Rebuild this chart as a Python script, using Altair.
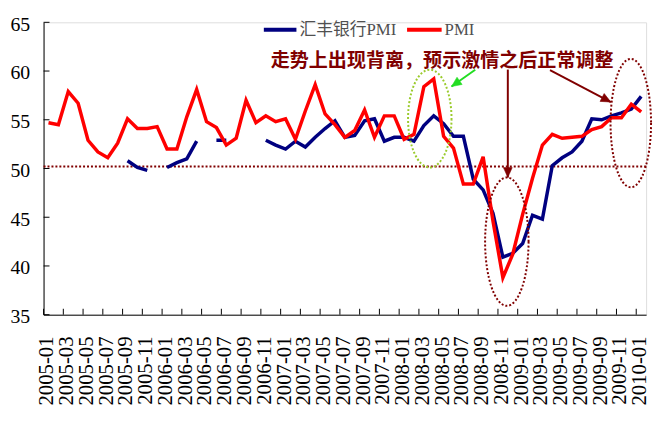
import math
import altair as alt
import pandas as pd

# ---------------- data ----------------
months = [f"{y}-{m:02d}" for y in range(2005, 2011) for m in range(1, 13)][:61]

pmi = [54.7, 54.5, 57.9, 56.7, 52.9, 51.7, 51.1, 52.6, 55.1, 54.1, 54.1, 54.3,
       52.0, 52.0, 55.3, 58.1, 54.8, 54.2, 52.4, 53.1, 57.0, 54.7, 55.4, 54.8,
       55.1, 53.0, 55.9, 58.6, 55.6, 54.5, 53.2, 53.9, 56.0, 53.2, 55.4, 55.4,
       53.0, 53.5, 58.4, 59.2, 53.3, 52.1, 48.4, 48.4, 51.2, 44.6, 38.8, 41.2,
       45.3, 49.0, 52.4, 53.5, 53.1, 53.2, 53.3, 54.0, 54.3, 55.2, 55.2, 56.6,
       55.8]

hsbc = [None, None, None, None, None, None, None, None,
        50.8, 50.1, 49.8, None, 50.1, 50.6, 51.0, 52.8, None, 52.9, 52.9, None, None, None,
        52.9, 52.4, 52.0, 52.8, 52.2, 53.2, 54.1, 54.9, 53.2, 53.4, 54.9, 55.1,
        52.8, 53.2, 53.2, 52.8, 54.4, 55.4, 54.6, 53.3, 53.3, 48.9, 47.8, 45.4, 40.9, 41.3,
        42.3, 45.2, 44.8, 50.3, 51.1, 51.7, 52.8, 55.1, 55.0, 55.4, 55.7, 56.1,
        57.4]

series_names = ["汇丰银行PMI", "PMI"]
series_colors = ["#000080", "#FF0000"]

y_ticks = [35, 40, 45, 50, 55, 60, 65]
x_tick_months = months[::2]
ref_level = 50.2

note_text = "走势上出现背离，预示激情之后正常调整"
note_pos = [40.35]
note_value = [61.05]

# ellipses: centre (month position, value), size in px (w, h), colour
ell_pos = [39.1, 46.9, 59.45]
ell_value = [55.12, 42.5, 54.66]
ell_w = [44, 44, 41]
ell_h = [99, 130, 130]
ell_color = ["#9BCB2D", "#800000", "#800000"]

# arrows: start -> tip
arr_pos0 = [43.7, 47.0, 51.27]
arr_val0 = [60.13, 60.15, 60.1]
arr_pos1 = [41.3, 47.0, 57.43]
arr_val1 = [58.41, 49.08, 56.82]
arr_color = ["#22DD22", "#800000", "#800000"]

# ---------------- layout ----------------
W, H = 610, 296
NPOS = len(months)
Y0, Y1 = 35, 65
SERIF = "Liberation Serif"
MIXED = "Liberation Serif, Noto Sans CJK SC"

rows = []
for i, m in enumerate(months):
    rows.append({"month": m, "pos": i + 0.5, "series": series_names[0], "value": hsbc[i]})
    rows.append({"month": m, "pos": i + 0.5, "series": series_names[1], "value": pmi[i]})
df = pd.DataFrame(rows)

x_tick_pos = [months.index(m) for m in x_tick_months]

x_scale = alt.Scale(domain=[0, NPOS], nice=False, zero=False)
y_scale = alt.Scale(domain=[Y0, Y1], nice=False, zero=False)

x_axis = alt.Axis(values=x_tick_pos, labels=False, ticks=False, domainColor="black",
                  domainWidth=1, grid=False)
y_axis = alt.Axis(values=y_ticks, labelPadding=14, labelOffset=2, labelFontSize=20,
                  labelFont=SERIF, labelColor="black", ticks=False, domainColor="black",
                  domainWidth=1, grid=False)

color = alt.Color("series:N",
                  scale=alt.Scale(domain=series_names, range=series_colors),
                  legend=None)

X = alt.X("pos:Q", scale=x_scale, axis=x_axis, title=None)
Y = alt.Y("value:Q", scale=y_scale, axis=y_axis, title=None)

base = alt.Chart(df)
blue = base.transform_filter(alt.datum.series == series_names[0]).mark_line(
    strokeWidth=3.5).encode(x=X, y=Y, color=color)
red = base.transform_filter(alt.datum.series == series_names[1]).mark_line(
    strokeWidth=3.5).encode(x=X, y=Y, color=color)

ref = alt.Chart(pd.DataFrame({"value": [ref_level]})).mark_rule(
    color="#800000", strokeDash=[2, 2], strokeWidth=2).encode(y="value:Q")

# inward tick marks
ytick_rules = alt.Chart(pd.DataFrame({"value": y_ticks})).mark_rule(
    color="black", strokeWidth=1).encode(y="value:Q", x=alt.value(0), x2=alt.value(6))
xtick_rules = alt.Chart(pd.DataFrame({"pos": x_tick_pos})).mark_rule(
    color="black", strokeWidth=1).encode(x="pos:Q", y=alt.value(H - 6), y2=alt.value(H))

# rotated month labels
xlab_df = pd.DataFrame({"pos": [p + 0.4 for p in x_tick_pos], "label": x_tick_months})
xlabels = alt.Chart(xlab_df).mark_text(
    angle=270, align="right", baseline="middle", font=SERIF, fontSize=21,
    color="black").encode(x="pos:Q", y=alt.value(H + 22), text="label:N")

layers = [ref, ytick_rules, xtick_rules, xlabels, blue, red]

# ellipses
for p, v, w, h, c in zip(ell_pos, ell_value, ell_w, ell_h, ell_color):
    a = w / h
    k = 0.5523
    path = (f"M {a:.4f} 0 C {a:.4f} {k} {a*k:.4f} 1 0 1 "
            f"C {-a*k:.4f} 1 {-a:.4f} {k} {-a:.4f} 0 "
            f"C {-a:.4f} {-k} {-a*k:.4f} -1 0 -1 "
            f"C {a*k:.4f} -1 {a:.4f} {-k} {a:.4f} 0 Z")
    layers.append(alt.Chart(pd.DataFrame({"pos": [p], "value": [v]})).mark_point(
        shape=path, size=h * h, filled=False, stroke=c, strokeWidth=2,
        strokeDash=[2, 2], opacity=1).encode(x="pos:Q", y="value:Q"))

# arrows
px_x = W / NPOS
px_y = H / (Y1 - Y0)
head = "M 0 0 L -0.45 1 L 0.45 1 Z"
for p0, v0, p1, v1, c in zip(arr_pos0, arr_val0, arr_pos1, arr_val1, arr_color):
    dx = (p1 - p0) * px_x
    dy = -(v1 - v0) * px_y
    ang = math.degrees(math.atan2(dx, -dy)) % 360
    seg = pd.DataFrame({"pos": [p0], "value": [v0], "pos2": [p1], "value2": [v1]})
    layers.append(alt.Chart(seg).mark_rule(color=c, strokeWidth=2).encode(
        x="pos:Q", y="value:Q", x2="pos2:Q", y2="value2:Q"))
    layers.append(alt.Chart(pd.DataFrame({"pos": [p1], "value": [v1]})).mark_point(
        shape=head, size=400, filled=True, fill=c, stroke=c, strokeWidth=0.5,
        opacity=1, angle=ang).encode(x="pos:Q", y="value:Q"))

note = alt.Chart(pd.DataFrame({"pos": note_pos, "value": note_value, "t": [note_text]})).mark_text(
    font="Noto Sans CJK SC", fontSize=19.3, fontWeight="bold", color="#800000",
    align="center", baseline="middle").encode(x="pos:Q", y="value:Q", text="t:N")
layers.append(note)

# legend (top, horizontal): line swatch + label for each series
leg_line_x = [223, 368]
leg_line_x2 = [256, 403]
leg_text_x = [259, 406]
leg_y = 7.5
for name, col, lx, lx2, tx in zip(series_names, series_colors, leg_line_x, leg_line_x2, leg_text_x):
    one = pd.DataFrame({"series": [name]})
    layers.append(alt.Chart(one).mark_rule(color=col, strokeWidth=4).encode(
        x=alt.value(lx), x2=alt.value(lx2), y=alt.value(leg_y)))
    layers.append(alt.Chart(one).mark_text(
        align="left", baseline="middle", font=MIXED, fontSize=17, color="#505050").encode(
        x=alt.value(tx), y=alt.value(leg_y + 0.5), text="series:N"))

chart = alt.layer(*layers).properties(
    width=W, height=H,
    autosize=alt.AutoSizeParams(type="none"),
    padding={"left": 36, "top": 12, "right": 9, "bottom": 95},
).configure_view(stroke=None).configure(background="white")

chart.save("out.html", embed_options={"renderer": "svg", "actions": False})
